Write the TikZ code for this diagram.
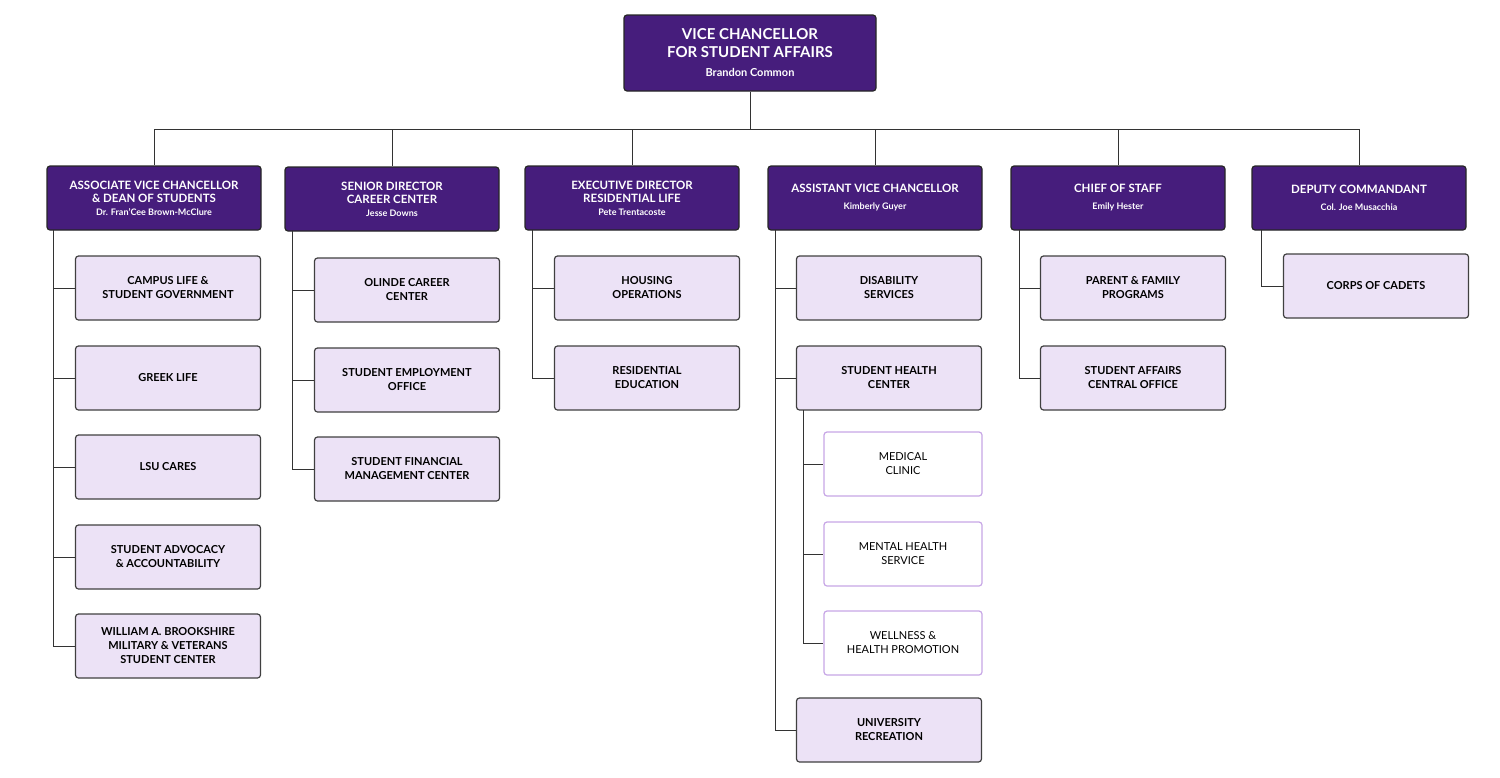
\documentclass[tikz,border=0pt]{standalone}
\usepackage{fontspec}
\setmainfont{Lato}
\newcommand\subf{\bfseries\fontsize{9}{11}\selectfont}
\begin{document}
\begin{tikzpicture}[x=1pt,y=-1pt,
  head/.style={draw=black!85,line width=1.2pt,fill=hdr,rounded corners=3pt,minimum width=214pt,minimum height=64pt,text=white,font=\bfseries\fontsize{11.5}{13}\selectfont,align=center,inner sep=0pt},
  top/.style={head,minimum width=252pt,minimum height=76pt,font=\bfseries\fontsize{15}{18}\selectfont},
  box/.style={draw=black!75,line width=1.2pt,fill=lite,rounded corners=3pt,minimum width=185pt,minimum height=64pt,font=\bfseries\fontsize{11}{14}\selectfont,align=center,inner sep=0pt},
  sbox/.style={draw=lav,line width=1.2pt,fill=white,rounded corners=3pt,minimum width=158pt,minimum height=64pt,font=\fontsize{11}{14}\selectfont,align=center,inner sep=0pt},
  ln/.style={draw=black!80,line width=1pt}]
\definecolor{hdr}{HTML}{461D7C}
\definecolor{lite}{HTML}{ECE2F6}
\definecolor{lav}{HTML}{C7A6E6}
\useasboundingbox (0,0) rectangle (1500,777);
\node[top] (vc) at (750,53) {VICE CHANCELLOR\\FOR STUDENT AFFAIRS\\[1pt]{\fontsize{11}{13}\selectfont Brandon Common}};
\coordinate (bus) at (753,129);
\node[head] (h1) at (154,198) {ASSOCIATE VICE CHANCELLOR\\\& DEAN OF STUDENTS\\{\subf Dr. Fran'Cee Brown-McClure}};
\node[head] (h2) at (392,199) {SENIOR DIRECTOR\\CAREER CENTER\\{\subf Jesse Downs}};
\node[head] (h3) at (632,198) {EXECUTIVE DIRECTOR\\RESIDENTIAL LIFE\\{\subf Pete Trentacoste}};
\node[head] (h4) at (875,198) {ASSISTANT VICE CHANCELLOR\\[4pt]{\subf Kimberly Guyer}};
\node[head] (h5) at (1118,198) {CHIEF OF STAFF\\[4pt]{\subf Emily Hester}};
\node[head] (h6) at (1359,198) {DEPUTY COMMANDANT\\[4pt]{\subf Col. Joe Musacchia}};
\draw[ln] (vc.south) -- (vc.south|-bus);
\draw[ln] (h1.north|-bus) -- (h6.north|-bus);
\foreach \h in {h1,h2,h3,h4,h5,h6} \draw[ln] (\h.north|-bus) -- (\h.north);
% col1
\node[box] (a1) at (168,288) {CAMPUS LIFE \&\\STUDENT GOVERNMENT};
\node[box] (a2) at (168,378) {GREEK LIFE};
\node[box] (a3) at (168,467) {LSU CARES};
\node[box] (a4) at (168,557) {STUDENT ADVOCACY\\\& ACCOUNTABILITY};
\node[box] (a5) at (168,646) {WILLIAM A. BROOKSHIRE\\MILITARY \& VETERANS\\STUDENT CENTER};
\coordinate (s1) at (53,230);
\draw[ln] (s1) -- (s1|-a5);
\foreach \n in {a1,a2,a3,a4,a5} \draw[ln] (s1|-\n) -- (\n.west);
% col2
\node[box] (b1) at (407,290) {OLINDE CAREER\\CENTER};
\node[box] (b2) at (407,380) {STUDENT EMPLOYMENT\\OFFICE};
\node[box] (b3) at (407,469) {STUDENT FINANCIAL\\MANAGEMENT CENTER};
\coordinate (s2) at (292,231);
\draw[ln] (s2) -- (s2|-b3);
\foreach \n in {b1,b2,b3} \draw[ln] (s2|-\n) -- (\n.west);
% col3
\node[box] (c1) at (647,288) {HOUSING\\OPERATIONS};
\node[box] (c2) at (647,378) {RESIDENTIAL\\EDUCATION};
\coordinate (s3) at (532,230);
\draw[ln] (s3) -- (s3|-c2);
\foreach \n in {c1,c2} \draw[ln] (s3|-\n) -- (\n.west);
% col4
\node[box] (d1) at (889,288) {DISABILITY\\SERVICES};
\node[box] (d2) at (889,378) {STUDENT HEALTH\\CENTER};
\node[box] (d3) at (889,730) {UNIVERSITY\\RECREATION};
\coordinate (s4) at (775,230);
\draw[ln] (s4) -- (s4|-d3);
\foreach \n in {d1,d2,d3} \draw[ln] (s4|-\n) -- (\n.west);
\node[sbox] (e1) at (903,464) {MEDICAL\\CLINIC};
\node[sbox] (e2) at (903,554) {MENTAL HEALTH\\SERVICE};
\node[sbox] (e3) at (903,643) {WELLNESS \&\\HEALTH PROMOTION};
\coordinate (s5) at (803,410);
\draw[ln] (s5) -- (s5|-e3);
\foreach \n in {e1,e2,e3} \draw[ln] (s5|-\n) -- (\n.west);
% col5
\node[box] (f1) at (1133,288) {PARENT \& FAMILY\\PROGRAMS};
\node[box] (f2) at (1133,378) {STUDENT AFFAIRS\\CENTRAL OFFICE};
\coordinate (s6) at (1019,230);
\draw[ln] (s6) -- (s6|-f2);
\foreach \n in {f1,f2} \draw[ln] (s6|-\n) -- (\n.west);
% col6
\node[box] (g1) at (1376,286) {CORPS OF CADETS};
\coordinate (s7) at (1261,230);
\draw[ln] (s7) -- (s7|-g1) -- (g1.west);
\end{tikzpicture}
\end{document}
